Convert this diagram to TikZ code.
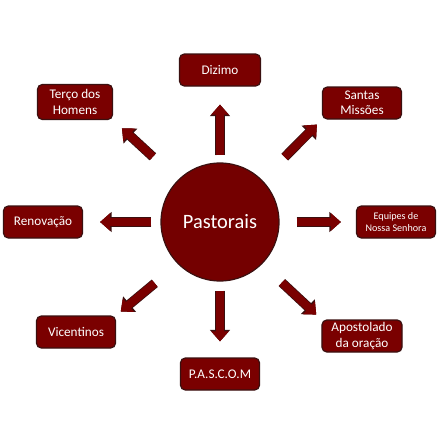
\documentclass[tikz,border=0pt]{standalone}
\usepackage{fontspec}
\setmainfont{Carlito}
\usetikzlibrary{arrows.meta}
\definecolor{pasred}{HTML}{7A0000}
\definecolor{pasedge}{HTML}{3A1010}

\begin{document}
\begin{tikzpicture}[x=0.25mm, y=-0.25mm,
  font=\fontsize{9.4}{10.8}\selectfont,
  pbox/.style={draw=pasedge, fill=pasred, line width=0.3mm, rounded corners=1.2mm,
               minimum width=19.75mm, minimum height=8mm, inner sep=0.5mm,
               text=white, align=center},
  hub/.style={circle, draw=pasedge, fill=pasred!95!black, line width=0.3mm,
              minimum size=29.5mm, text=white, font=\fontsize{14.5}{16}\selectfont},
  arr/.style={draw=pasred, line width=2mm, -{Triangle[width=4.25mm, length=2.5mm]},
              preaction={draw=pasedge, line width=2.4mm,
                         -{Triangle[width=4.9mm, length=2.9mm]}}},
]
\useasboundingbox (0,0) rectangle (439,439);

% ---- hub ----
\node[hub] (c) at (220,222) {Pastorais};

% ---- surrounding boxes ----
\node[pbox, minimum width=20.25mm] (dz) at (220,70) {Dizimo};
\node[pbox, minimum width=18.75mm, minimum height=8.75mm] (th) at (75,102) {Terço dos\\Homens};
\node[pbox] (sm) at (362,103) {Santas\\Missões};
\node[pbox, font=\fontsize{7.2}{8.8}\selectfont] (eq) at (396,222) {Equipes de\\Nossa Senhora};
\node[pbox] (rn) at (43,222) {Renovação};
\node[pbox, minimum width=20mm] (ap) at (362,336) {Apostolado\\da oração};
\node[pbox] (vc) at (76,332) {Vicentinos};
\node[pbox] (pa) at (220,374) {P.A.S.C.O.M};

% ---- block arrows ----
\draw[arr, shorten <=1.75mm, shorten >=4.5mm] (c.90) -- (dz.south);
\draw[arr, shorten <=2.25mm, shorten >=4mm] (c.270) -- (pa.north);
\draw[arr, shorten <=2.25mm, shorten >=4.25mm] (c.180) -- (rn.east);
\draw[arr, shorten <=4.25mm, shorten >=3.75mm] (c.0) -- (eq.west);
\draw[arr, shorten <=8.5mm, shorten >=3mm] (c.135) -- (th.south east);
\draw[arr, shorten <=8mm, shorten >=1.75mm] (c.45) -- (sm.south west);
\draw[arr, shorten <=6.75mm, shorten >=1.75mm] (c.-45) -- (ap.north west);
\draw[arr, shorten <=7.5mm, shorten >=1.5mm] (c.225) -- (vc.north east);
\end{tikzpicture}
\end{document}
